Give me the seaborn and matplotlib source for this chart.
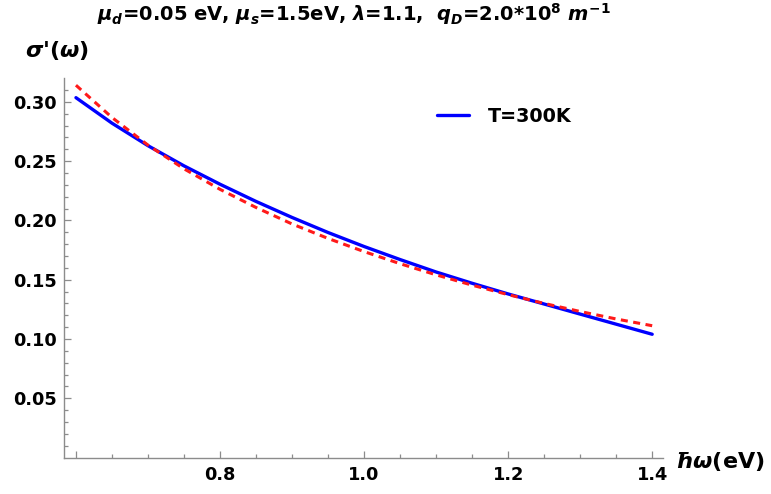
import numpy as np
import pandas as pd
import matplotlib.pyplot as plt
import seaborn as sns

# photon energy (eV)
energy = [0.60, 0.65, 0.70, 0.75, 0.80, 0.85, 0.90, 0.95, 1.00,
          1.05, 1.10, 1.15, 1.20, 1.25, 1.30, 1.35, 1.40]
# sigma'(omega), T=300K (solid blue)
sigma_300 = [0.3035, 0.282, 0.263, 0.246, 0.2305, 0.216, 0.2025, 0.1898, 0.178,
             0.167, 0.1565, 0.1470, 0.138, 0.1295, 0.121, 0.1125, 0.104]
# dashed red curve
sigma_fit = [0.314, 0.2868, 0.2635, 0.2435, 0.2262, 0.2109, 0.197, 0.1848, 0.1737,
             0.1635, 0.1541, 0.1454, 0.1374, 0.1300, 0.1232, 0.1169, 0.1112]

x_major = [0.6, 0.8, 1.0, 1.2, 1.4]
x_labels = ['', '0.8', '1.0', '1.2', '1.4']
y_major = [0.05, 0.10, 0.15, 0.20, 0.25, 0.30]
y_labels = ['0.05', '0.10', '0.15', '0.20', '0.25', '0.30']

df = pd.DataFrame({'E': energy, 'T=300K': sigma_300, 'fit': sigma_fit})

sns.set_style('white')
plt.rcParams['font.family'] = ['DejaVu Sans']
plt.rcParams['font.weight'] = 'bold'
plt.rcParams['text.color'] = 'black'
plt.rcParams['mathtext.fontset'] = 'custom'
plt.rcParams['mathtext.rm'] = 'DejaVu Sans:bold'
plt.rcParams['mathtext.bf'] = 'DejaVu Sans:bold'
plt.rcParams['mathtext.it'] = 'DejaVu Sans:bold:italic'

fig = plt.figure(figsize=(7.71, 4.94), dpi=100)
ax = fig.add_axes([64 / 771, 36.4 / 494, 599 / 771, 379.5 / 494])

sns.lineplot(data=df, x='E', y='T=300K', ax=ax, color='#0000ff', lw=2.4,
             label='T=300K')
sns.lineplot(data=df, x='E', y='fit', ax=ax, color='#ff1a1a', lw=2.2,
             dashes=False, linestyle=(0, (2.3, 1.8)))

ax.set_xlim(0.5834, 1.415)
ax.set_ylim(0, 0.32)
ax.set_xlabel('')
ax.set_ylabel('')

ax.set_xticks(x_major)
ax.set_xticklabels(x_labels)
ax.set_xticks(np.arange(0.65, 1.40, 0.05), minor=True)
ax.set_yticks(y_major)
ax.set_yticklabels(y_labels)
ax.set_yticks(np.arange(0.01, 0.32, 0.01), minor=True)

gray = '#8c8c8c'
for s in ['top', 'right']:
    ax.spines[s].set_visible(False)
for s in ['left', 'bottom']:
    ax.spines[s].set_color(gray)
    ax.spines[s].set_linewidth(1.0)
ax.tick_params(which='both', direction='in', color=gray, width=0.9,
               labelsize=12.8, labelcolor='black')
ax.tick_params(which='major', length=5)
ax.tick_params(which='minor', length=3)
ax.tick_params(axis='x', which='both', bottom=True, pad=6)
ax.tick_params(axis='y', which='both', left=True, pad=5)

ax.legend(loc='center left', bbox_to_anchor=(0.622, 0.9), frameon=False,
          borderpad=0, borderaxespad=0, handlelength=1.7, handletextpad=1.0,
          prop={'size': 13.8, 'weight': 'bold'})

fig.text(675 / 771, 1 - 461 / 494, r'$\hbar\omega$(eV)',
         ha='left', va='center', fontsize=16, fontweight='bold')
fig.text(25 / 771, 1 - 50 / 494, r"$\sigma$'($\omega$)", ha='left',
         va='center', fontsize=16, fontweight='bold')
fig.text(354 / 771, 1 - 14 / 494,
         r'$\mu_d$=0.05 eV, $\mu_s$=1.5eV, $\lambda$=1.1,  '
         r'$q_D$=2.0$*$10$^8$ $m^{-1}$',
         ha='center', va='center', fontsize=14, fontweight='bold')

fig.savefig('out.png', dpi=100)
